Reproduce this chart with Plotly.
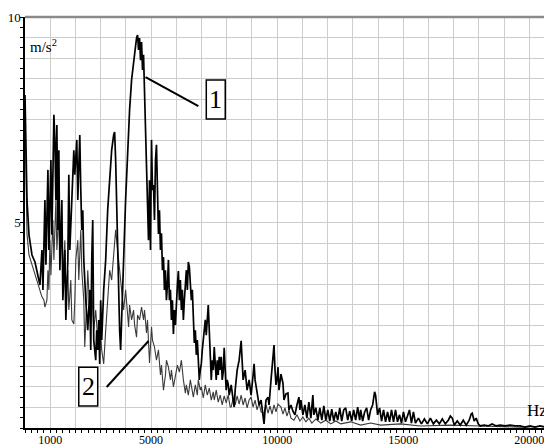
import plotly.graph_objects as go

# Curve 1 (black, thick)
freq1 = [0, 40, 79, 158, 277, 395, 514, 593, 672, 711, 790, 830, 909, 948, 1027, 1067, 1146, 1185, 1225, 1264,
         1304, 1343, 1383, 1462, 1501, 1580, 1620, 1699, 1738, 1778, 1857, 1936, 1975, 2054, 2094, 2133, 2173, 2212,
         2252, 2291, 2331, 2410, 2489, 2568, 2607, 2647, 2686, 2726, 2805, 2844, 2884, 2923, 2963, 3002, 3042, 3121,
         3200, 3279, 3358, 3437, 3516, 3555, 3595, 3634, 3674, 3713, 3753, 3792, 3832, 3911, 3990, 4069, 4148, 4227,
         4306, 4385, 4424, 4464, 4503, 4543, 4582, 4622, 4661, 4701, 4740, 4780, 4819, 4859, 4898, 4938, 4977, 5017,
         5056, 5096, 5135, 5175, 5214, 5254, 5293, 5333, 5372, 5412, 5451, 5491, 5530, 5570, 5609, 5649, 5688, 5728,
         5767, 5807, 5846, 5886, 5925, 5965, 6004, 6044, 6083, 6123, 6162, 6202, 6241, 6281, 6320, 6360, 6399, 6439,
         6478, 6518, 6557, 6597, 6636, 6676, 6715, 6755, 6794, 6834, 6873, 6913, 6952, 6992, 7031, 7071, 7110, 7150,
         7189, 7229, 7268, 7308, 7347, 7387, 7426, 7466, 7505, 7545, 7584, 7624, 7663, 7703, 7742, 7782, 7821, 7861,
         7900, 7940, 7979, 8019, 8058, 8098, 8177, 8256, 8296, 8335, 8414, 8493, 8572, 8611, 8651, 8730, 8809, 8888,
         8967, 9046, 9085, 9125, 9204, 9283, 9362, 9441, 9480, 9520, 9559, 9638, 9678, 9757, 9836, 9875, 9915, 9954,
         9994, 10033, 10073, 10152, 10231, 10270, 10349, 10428, 10468, 10547, 10626, 10705, 10784, 10863, 10902,
         10942, 11021, 11100, 11179, 11258, 11337, 11416, 11455, 11535, 11614, 11693, 11772, 11851, 11930, 12009,
         12087, 12166, 12245, 12324, 12403, 12482, 12561, 12640, 12719, 12798, 12877, 12956, 13035, 13114, 13193,
         13272, 13312, 13391, 13470, 13549, 13628, 13707, 13786, 13825, 13865, 13904, 13944, 13983, 14062, 14141,
         14220, 14299, 14378, 14457, 14536, 14615, 14694, 14773, 14852, 14931, 15010, 15089, 15168, 15247, 15326,
         15405, 15484, 15603, 15721, 15840, 15958, 16077, 16195, 16314, 16432, 16551, 16669, 16788, 16867, 16946,
         17025, 17143, 17262, 17380, 17499, 17617, 17696, 17736, 17815, 17894, 17973, 18052, 18210, 18368, 18526,
         18684, 18842, 19040, 19237, 19434, 19632, 19829, 20027, 20224, 20422, 20619, 20896]
amp1 = [8.10, 6.76, 5.55, 4.70, 4.21, 4.04, 3.72, 3.48, 4.33, 3.36, 5.55, 3.97, 6.28, 4.33, 6.52, 4.70, 7.62, 7.01,
        5.55, 7.37, 4.82, 6.76, 3.84, 5.55, 3.11, 4.33, 2.63, 4.09, 6.16, 4.33, 5.55, 6.76, 6.16, 7.01, 5.55, 6.40,
        7.13, 5.79, 4.82, 5.30, 4.09, 3.11, 2.38, 3.36, 1.90, 4.09, 5.06, 2.14, 1.65, 2.38, 1.90, 2.63, 1.56, 3.11,
        2.14, 3.36, 4.09, 5.30, 6.03, 6.76, 7.13, 7.20, 6.52, 5.55, 4.57, 3.11, 2.38, 1.90, 2.87, 4.09, 5.55, 6.76,
        7.74, 8.47, 8.95, 9.32, 9.49, 9.56, 9.20, 9.49, 8.95, 9.39, 8.71, 9.08, 8.22, 7.49, 6.52, 5.55, 4.57, 6.03,
        4.33, 7.01, 5.79, 5.91, 5.06, 6.52, 6.89, 5.79, 4.72, 5.30, 4.33, 4.74, 3.84, 4.16, 3.36, 3.84, 3.11, 3.48,
        4.09, 3.11, 3.36, 2.63, 3.11, 2.29, 2.87, 2.51, 3.11, 3.48, 3.82, 3.11, 3.60, 2.87, 3.36, 2.63, 3.11, 3.48,
        3.84, 3.36, 4.04, 3.92, 3.60, 3.11, 3.36, 2.63, 2.07, 2.38, 1.78, 2.14, 1.65, 1.17, 1.41, 1.56, 1.90, 2.14,
        2.38, 2.63, 2.26, 2.75, 2.99, 2.38, 1.65, 1.17, 1.65, 1.41, 1.97, 1.53, 1.17, 1.65, 1.29, 1.73, 1.41, 1.73,
        1.17, 1.36, 1.95, 1.41, 0.92, 1.17, 1.07, 0.80, 1.05, 0.68, 0.51, 0.92, 1.41, 1.65, 2.12, 1.65, 1.17, 1.41,
        0.92, 1.17, 0.80, 1.29, 1.56, 1.17, 0.80, 0.56, 0.68, 0.32, 0.10, 0.44, 0.68, 0.75, 0.56, 1.17, 1.65, 2.02,
        1.41, 1.05, 1.17, 1.48, 0.92, 1.31, 1.09, 0.68, 0.83, 0.85, 0.44, 0.56, 0.41, 0.32, 0.56, 0.75, 0.44, 0.68,
        0.32, 0.56, 0.24, 0.63, 0.24, 0.80, 0.32, 0.49, 0.19, 0.49, 0.19, 0.54, 0.19, 0.44, 0.17, 0.46, 0.17, 0.39,
        0.19, 0.49, 0.17, 0.44, 0.49, 0.19, 0.41, 0.17, 0.44, 0.19, 0.51, 0.19, 0.44, 0.17, 0.39, 0.49, 0.19, 0.44,
        0.56, 0.80, 0.88, 0.80, 0.56, 0.32, 0.49, 0.17, 0.44, 0.15, 0.39, 0.15, 0.44, 0.15, 0.44, 0.15, 0.32, 0.12,
        0.39, 0.15, 0.29, 0.44, 0.12, 0.39, 0.12, 0.24, 0.10, 0.22, 0.10, 0.24, 0.10, 0.19, 0.10, 0.22, 0.10, 0.19,
        0.29, 0.24, 0.07, 0.17, 0.07, 0.19, 0.07, 0.19, 0.34, 0.36, 0.17, 0.24, 0.10, 0.05, 0.07, 0.05, 0.10, 0.05,
        0.07, 0.05, 0.07, 0.05, 0.05, 0.02, 0.05, 0.02, 0.05, 0.02, 0.05]

# Curve 2 (grey, thin)
freq2 = [0, 40, 79, 158, 277, 395, 514, 593, 672, 751, 790, 869, 909, 948, 988, 1027, 1106, 1146, 1225, 1264, 1343,
         1383, 1462, 1501, 1580, 1620, 1699, 1738, 1817, 1857, 1936, 1975, 2015, 2094, 2133, 2212, 2252, 2331, 2370,
         2449, 2489, 2568, 2647, 2726, 2805, 2884, 2963, 3042, 3121, 3200, 3279, 3358, 3437, 3516, 3595, 3674, 3753,
         3832, 3911, 3990, 4030, 4069, 4109, 4148, 4227, 4306, 4346, 4424, 4464, 4543, 4622, 4701, 4740, 4819, 4859,
         4938, 5017, 5056, 5135, 5214, 5293, 5372, 5412, 5491, 5570, 5609, 5688, 5767, 5807, 5886, 5965, 6044, 6123,
         6202, 6281, 6360, 6399, 6478, 6557, 6597, 6676, 6755, 6834, 6873, 6952, 6992, 7071, 7150, 7229, 7308, 7387,
         7466, 7505, 7584, 7663, 7742, 7821, 7900, 7979, 8058, 8137, 8177, 8256, 8335, 8414, 8493, 8572, 8651, 8730,
         8809, 8888, 8967, 9046, 9125, 9204, 9283, 9362, 9480, 9559, 9638, 9717, 9796, 9875, 9954, 10033, 10152,
         10231, 10310, 10389, 10468, 10547, 10665, 10784, 10902, 11021, 11139, 11258, 11376, 11535, 11732, 11930,
         12127, 12324, 12522, 12917, 13312, 13707, 14101, 14892, 15682, 16867, 18052, 19632, 20896]
amp2 = [7.74, 6.28, 4.72, 4.21, 3.97, 3.72, 3.48, 3.36, 3.19, 3.11, 2.94, 3.11, 3.84, 3.36, 4.57, 3.72, 5.06, 4.09,
        5.55, 4.33, 5.30, 4.09, 4.82, 3.60, 4.57, 3.36, 3.84, 2.87, 3.60, 2.63, 2.53, 3.11, 4.09, 4.57, 3.60, 4.82,
        3.84, 3.11, 1.97, 3.11, 3.84, 2.87, 3.36, 2.38, 2.87, 2.14, 2.63, 1.90, 1.56, 2.38, 3.11, 3.84, 3.60, 4.33,
        4.82, 4.33, 3.84, 3.36, 2.87, 3.36, 3.11, 2.75, 2.46, 2.99, 2.63, 2.87, 2.51, 2.21, 2.75, 2.63, 2.94, 2.63,
        2.87, 2.31, 2.63, 1.58, 2.46, 2.14, 1.97, 1.65, 1.90, 1.29, 1.53, 0.92, 1.29, 1.65, 1.48, 1.17, 1.41, 1.00,
        1.29, 1.53, 1.36, 1.65, 1.17, 0.85, 1.05, 0.80, 1.17, 1.00, 0.75, 1.05, 0.80, 1.17, 0.92, 1.00, 0.73, 1.05,
        0.80, 0.97, 0.68, 0.88, 0.68, 0.92, 0.63, 0.80, 0.56, 0.78, 0.61, 0.80, 0.51, 0.51, 0.73, 0.56, 0.78, 0.58,
        0.80, 0.56, 0.73, 0.49, 0.68, 0.75, 0.51, 0.68, 0.44, 0.61, 0.39, 0.36, 0.56, 0.36, 0.54, 0.34, 0.56, 0.39,
        0.58, 0.51, 0.34, 0.49, 0.29, 0.44, 0.24, 0.19, 0.32, 0.17, 0.27, 0.15, 0.24, 0.12, 0.22, 0.12, 0.19, 0.10,
        0.17, 0.10, 0.15, 0.07, 0.12, 0.07, 0.10, 0.05, 0.07, 0.05, 0.02, 0.05]

x_grid = [1000 * k for k in range(0, 21)]
x_labels = {1000: "1000", 5000: "5000", 10000: "10000", 15000: "15000", 20000: "20000"}
y_grid = [0.5 * k for k in range(0, 21)]
y_labels = {5.0: "5", 10.0: "10"}

FONT = "Liberation Serif"

fig = go.Figure()
fig.add_trace(go.Scatter(x=freq2, y=amp2, mode="lines", line=dict(color="#3a3a3a", width=1.1), hoverinfo="skip"))
fig.add_trace(go.Scatter(x=freq1, y=amp1, mode="lines", line=dict(color="#000000", width=1.7), hoverinfo="skip"))

# the page body adds an 8px margin; size/margins compensate so the plot area sits at page x 23..552, y 17..428
fig.update_layout(
    width=544, height=439,
    margin=dict(l=15, r=0, t=9, b=19),
    paper_bgcolor="white", plot_bgcolor="white",
    showlegend=False,
    font=dict(family=FONT, color="black"),
    xaxis=dict(
        range=[0, 20900], tickmode="array", tickvals=x_grid,
        ticktext=[x_labels.get(v, "") for v in x_grid],
        showgrid=True, gridcolor="#cdcdcd", gridwidth=1.3,
        showline=True, linecolor="black", linewidth=1.5,
        zeroline=False, ticks="", tickfont=dict(family=FONT, size=12, color="black"),
        minor=dict(dtick=250, tick0=0, ticks="outside", ticklen=3, tickcolor="black", showgrid=False),
    ),
    yaxis=dict(
        range=[0, 10], tickmode="array", tickvals=y_grid,
        ticktext=[y_labels.get(v, "") for v in y_grid],
        showgrid=True, gridcolor="#cdcdcd", gridwidth=1.3,
        showline=True, linecolor="black", linewidth=1.5,
        zeroline=False, ticks="", tickangle=0, tickfont=dict(family=FONT, size=13, color="black"),
        minor=dict(dtick=0.25, tick0=0, ticks="outside", ticklen=3, tickcolor="black", showgrid=False),
    ),
    shapes=[
        dict(type="line", xref="paper", yref="paper", x0=0, x1=1, y0=1, y1=1,
             line=dict(color="#8a8a8a", width=2.5)),
        dict(type="rect", xref="paper", yref="paper", x0=0.344, x1=0.380, y0=0.752, y1=0.847,
             line=dict(color="black", width=1.5), fillcolor="white"),
        dict(type="rect", xref="paper", yref="paper", x0=0.102, x1=0.138, y0=0.0535, y1=0.148,
             line=dict(color="black", width=1.5), fillcolor="white"),
        dict(type="line", xref="paper", yref="paper", x0=0.2287, y0=0.854, x1=0.329, y1=0.783,
             line=dict(color="black", width=2)),
        dict(type="line", xref="paper", yref="paper", x0=0.155, y0=0.0998, x1=0.2344, y1=0.2117,
             line=dict(color="black", width=2)),
    ],
    annotations=[
        dict(text="m/s<sup>2</sup>", xref="paper", yref="paper", x=0.006, y=0.93,
             xanchor="left", yanchor="middle", showarrow=False, font=dict(family=FONT, size=15, color="black")),
        dict(text="Hz", xref="paper", yref="paper", x=0.972, y=0.043,
             xanchor="center", yanchor="middle", showarrow=False, font=dict(family=FONT, size=17, color="black")),
        dict(text="1", xref="paper", yref="paper", x=0.362, y=0.799,
             xanchor="center", yanchor="middle", showarrow=False, font=dict(family=FONT, size=26, color="black")),
        dict(text="2", xref="paper", yref="paper", x=0.120, y=0.101,
             xanchor="center", yanchor="middle", showarrow=False, font=dict(family=FONT, size=26, color="black")),
    ],
)

fig.write_html("out.html")
